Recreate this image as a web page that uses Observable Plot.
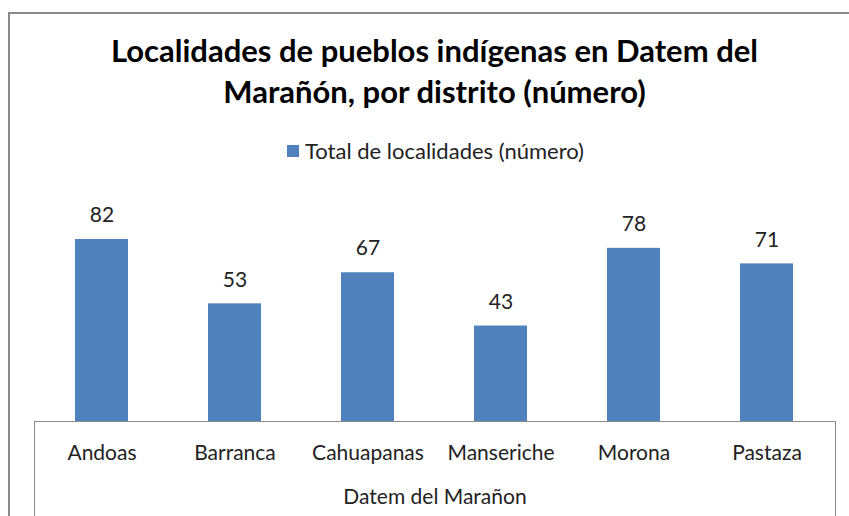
<!DOCTYPE html>
<html>
<head>
<meta charset="utf-8">
<script src="https://cdn.jsdelivr.net/npm/d3@7"></script>
<script src="https://cdn.jsdelivr.net/npm/@observablehq/plot@0.6"></script>
<style>
  html, body { margin: 0; padding: 0; background: #fff; }
  #wrap { position: relative; width: 849px; height: 516px; overflow: hidden; font-family: Lato, "Open Sans", sans-serif; }
  #border { position: absolute; left: 8px; top: 12px; width: 900px; height: 600px; border-left: 2px solid #8a8a8a; border-top: 2px solid #8a8a8a; }
  #title { position: absolute; left: 0; width: 869px; top: 30px; text-align: center; font-weight: bold; font-size: 31px; line-height: 41px; color: #000; }
  #legend { position: absolute; left: 287px; top: 137px; font-size: 22px; color: #222; display: flex; align-items: center; }
  #legend .sw { width: 12px; height: 12px; background: #4F81BD; margin-right: 6px; }
  #axisbox { position: absolute; left: 34px; top: 421px; width: 800px; height: 200px; border-left: 1px solid #8a8a8a; border-right: 1px solid #8a8a8a; }
  #chart { position: absolute; left: 0; top: 0; }
</style>
</head>
<body>
<div id="wrap">
  <div id="border"></div>
  <div id="axisbox"></div>
  <div id="chart"></div>
  <div id="title">Localidades de pueblos indígenas en Datem del<br>Marañón, por distrito (número)</div>
  <div id="legend"><span class="sw"></span><span>Total de localidades (número)</span></div>
</div>
<script>
const districts = ["Andoas", "Barranca", "Cahuapanas", "Manseriche", "Morona", "Pastaza"];
const totals = [82, 53, 67, 43, 78, 71];
const seriesName = "Total de localidades (número)";
const axisTitle = "Datem del Marañon";

const data = districts.map((d, i) => ({district: d, total: totals[i]}));

const chart = Plot.plot({
  width: 849,
  height: 516,
  marginTop: 199,
  marginBottom: 95,
  marginLeft: 34,
  marginRight: 14,
  style: {fontFamily: "Lato, 'Open Sans', sans-serif", background: "transparent", color: "#222"},
  x: {domain: districts, paddingInner: 0.6, paddingOuter: 0.3, label: null},
  y: {domain: [0, 100], axis: null},
  marks: [
    Plot.barY(data, {x: "district", y: "total", fill: "#4F81BD"}),
    Plot.ruleY([0], {stroke: "#8a8a8a", strokeWidth: 1}),
    Plot.text(data, {x: "district", y: "total", text: d => String(d.total), dy: -24, fontSize: 21, fill: "#222"}),
    Plot.axisX({tickSize: 0, tickPadding: 24, fontSize: 21, label: axisTitle, labelAnchor: "center", labelOffset: 82, labelArrow: "none"})
  ]
});
document.getElementById("chart").appendChild(chart);
</script>
</body>
</html>
